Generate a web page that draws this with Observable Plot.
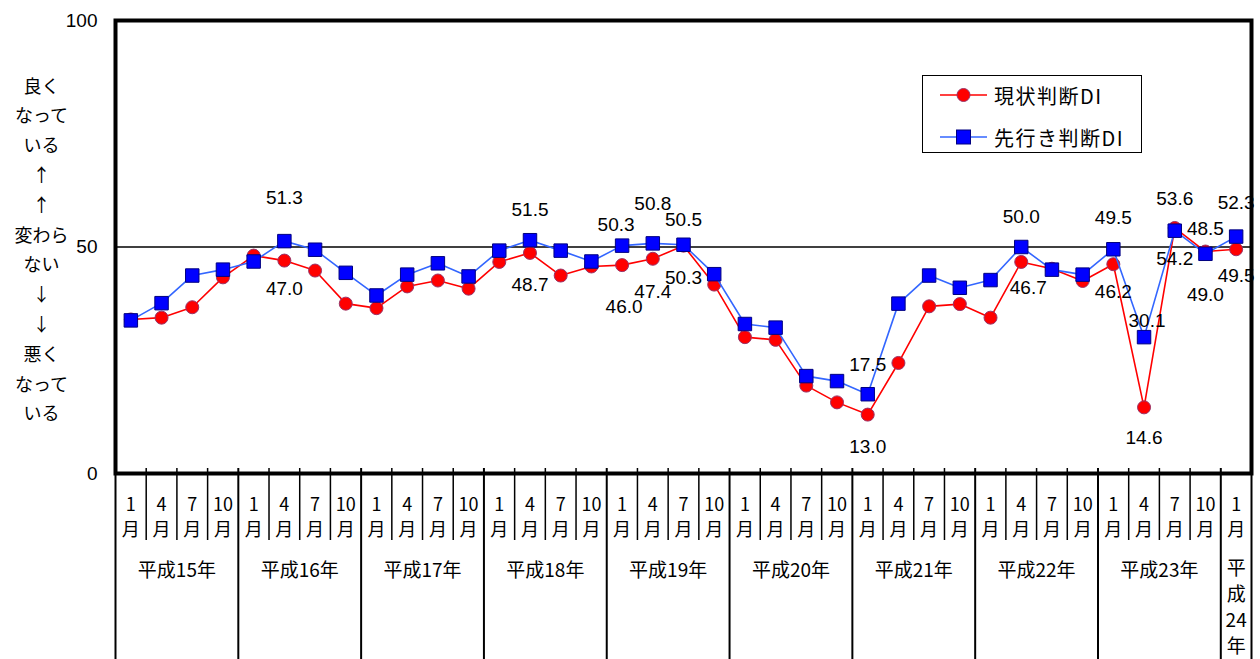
<!DOCTYPE html>
<html>
<head>
<meta charset="utf-8">
<script src="https://cdn.jsdelivr.net/npm/d3@7"></script>
<script src="https://cdn.jsdelivr.net/npm/@observablehq/plot@0.6"></script>
<style>
  html, body { margin: 0; padding: 0; background: #fff; }
  #chart { position: relative; width: 1260px; height: 659px; overflow: hidden; }
  .legend {
    position: absolute; left: 922px; top: 75px; width: 218px; height: 76px;
    border: 1.5px solid #000; background: #fff;
    font-family: 'Noto Sans CJK JP', 'Liberation Sans', sans-serif; font-size: 20px; letter-spacing: 1.5px;
  }
  .legend .row { position: absolute; left: 17px; display: flex; align-items: center; height: 24px; }
  .legend .row svg { display: block; margin-right: 6px; }
</style>
</head>
<body>
<div id="chart"></div>
<script>
// 景気ウォッチャー調査：現状判断DI・先行き判断DI（四半期）
const yearLabels = ["平成15年", "平成16年", "平成17年", "平成18年", "平成19年",
                    "平成20年", "平成21年", "平成22年", "平成23年", "平成24年"];
const quartersPerYear = [4, 4, 4, 4, 4, 4, 4, 4, 4, 1];
const monthLabels = ["1", "4", "7", "10"];

// 現状判断DI
const genjoDI = [34.0, 34.4, 36.7, 43.3,  48.1, 47.0, 44.8, 37.5,  36.5, 41.3, 42.6, 40.8,
                 46.7, 48.7, 43.7, 45.7,  46.0, 47.4, 50.3, 41.7,  30.1, 29.5, 19.4, 15.7,
                 13.0, 24.4, 36.9, 37.4,  34.4, 46.7, 45.2, 42.5,  46.2, 14.6, 54.2, 49.0,
                 49.5];
// 先行き判断DI
const sakiyukiDI = [33.8, 37.6, 43.7, 45.0,  46.8, 51.3, 49.4, 44.3,  39.3, 43.9, 46.4, 43.5,
                    49.2, 51.5, 49.2, 46.8,  50.3, 50.8, 50.5, 44.0,  33.0, 32.2, 21.5, 20.4,
                    17.5, 37.5, 43.7, 41.0,  42.7, 50.0, 45.0, 43.9,  49.5, 30.1, 53.6, 48.5,
                    52.3];
// 数値を表示する時点
const labeledPoints = [5, 13, 16, 17, 18, 24, 29, 32, 33, 34, 35, 36];

const yTicks = [0, 50, 100];
const sideLabel = ["良く", "なって", "いる", "↑", "↑", "変わら", "ない", "↓", "↓", "悪く", "なって", "いる"];
const seriesNames = ["現状判断DI", "先行き判断DI"];

// ---- layout ----
const W = 1260, H = 659;
const M = {top: 20, right: 9, bottom: 186, left: 115};
const plotH = H - M.top - M.bottom;
const NUM_FONT = "'Liberation Sans', 'Noto Sans CJK JP', sans-serif";
const JP_FONT = "'Noto Sans CJK JP', 'Liberation Sans', sans-serif";
const RED = "#FF0000", RED_EDGE = "#993366";
const BLUE_LINE = "#3366FF", BLUE = "#0000FF", BLUE_EDGE = "#000080";

// periods along the x axis
const periods = [];
const yearSpans = [];
yearLabels.forEach((y, yi) => {
  const start = periods.length;
  for (let q = 0; q < quartersPerYear[yi]; ++q) periods.push({year: y, month: monthLabels[q]});
  yearSpans.push({label: y, start, end: periods.length});
});
const n = periods.length;
const xc = (d, i) => i + 0.5;

const yearEdges = [0, ...yearSpans.map(s => s.end)];
const monthEdges = d3.range(1, n).filter(k => !yearEdges.includes(k));

// per-label offsets (px) to keep the value labels clear of the lines
const blueDy = {5: -43, 13: -30, 16: -21, 17: -39, 18: -25, 24: -29, 29: -30, 32: -31, 33: -16, 34: -32, 35: -25, 36: -34};
const blueDx = {16: -6, 33: 3};
const redDy = {5: 28, 13: 32, 16: 42, 17: 33, 18: 32, 24: 32, 29: 26, 32: 28, 33: 31, 34: 31, 35: 43, 36: 27};
const redDx = {29: 7, 16: 2};

const fmt = d3.format(".1f");
function valueLabels(values, dyMap, dxMap) {
  return labeledPoints.map(i => Plot.text([values[i]], {
    x: () => i + 0.5, y: d => d, text: d => fmt(d),
    dy: dyMap[i] ?? 0, dx: dxMap[i] ?? 0,
    fontSize: 19, fontFamily: NUM_FONT, fill: "#000"
  }));
}

// stack a label vertically ("平\n成\n24\n年") for single-quarter years
const stacked = s => s.match(/\d+|./g).join("\n");

const below = {frameAnchor: "bottom", textAnchor: "middle", lineAnchor: "middle", fill: "#000", fontFamily: JP_FONT};

const chart = Plot.plot({
  width: W, height: H,
  marginTop: M.top, marginRight: M.right, marginBottom: M.bottom, marginLeft: M.left,
  x: {domain: [0, n], axis: null},
  y: {domain: [0, 100], axis: null},
  style: {background: "#fff", overflow: "visible"},
  marks: [
    Plot.ruleY([50], {stroke: "#000", strokeWidth: 1.5}),
    // month separators below the axis
    Plot.ruleX(monthEdges, {stroke: "#000", strokeWidth: 1.5, insetTop: plotH - 5, insetBottom: -67}),
    // year separators down to the bottom
    Plot.ruleX(yearEdges, {stroke: "#000", strokeWidth: 2, insetTop: plotH - 5, insetBottom: -M.bottom}),
    Plot.frame({stroke: "#000", strokeWidth: 4}),
    // y tick labels
    Plot.text(yTicks, {y: d => d, frameAnchor: "left", dx: -18, textAnchor: "end", lineAnchor: "middle",
                       fontSize: 19, fontFamily: NUM_FONT, fill: "#000"}),
    // y axis description
    Plot.text([sideLabel.join("\n")], {frameAnchor: "left", dx: -74, textAnchor: "middle", lineAnchor: "middle",
                                       lineHeight: 1.655, fontSize: 18, fontFamily: JP_FONT, fill: "#000"}),
    // month labels
    Plot.text(periods, {...below, x: xc, text: d => d.month + "\n月", dy: 42,
                        lineHeight: 1.42, fontSize: 18}),
    // year labels
    Plot.text(yearSpans.filter(s => s.end - s.start > 1), {...below,
      x: s => (s.start + s.end) / 2, text: s => s.label, dy: 97, fontSize: 19}),
    Plot.text(yearSpans.filter(s => s.end - s.start === 1), {...below,
      x: s => (s.start + s.end) / 2, text: s => stacked(s.label), dy: 132,
      lineHeight: 1.37, fontSize: 19}),
    // 現状判断DI
    Plot.line(genjoDI, {x: xc, y: d => d, stroke: RED, strokeWidth: 1.6}),
    Plot.dot(genjoDI, {x: xc, y: d => d, r: 6.5, fill: RED, stroke: RED_EDGE, strokeWidth: 1}),
    // 先行き判断DI
    Plot.line(sakiyukiDI, {x: xc, y: d => d, stroke: BLUE_LINE, strokeWidth: 1.6}),
    Plot.dot(sakiyukiDI, {x: xc, y: d => d, symbol: "square", r: 7.6, fill: BLUE, stroke: BLUE_EDGE, strokeWidth: 1}),
    ...valueLabels(sakiyukiDI, blueDy, blueDx),
    ...valueLabels(genjoDI, redDy, redDx)
  ]
});

const root = document.getElementById("chart");
root.appendChild(chart);

// legend box inside the plot area
const legend = document.createElement("div");
legend.className = "legend";
legend.innerHTML = `
  <div class="row" style="top:7px">
    <svg width="48" height="20"><line x1="0" x2="47" y1="10" y2="10" stroke="${RED}" stroke-width="1.6"/>
      <circle cx="23.5" cy="10" r="6.5" fill="${RED}" stroke="${RED_EDGE}" stroke-width="1"/></svg>
    <span>${seriesNames[0]}</span></div>
  <div class="row" style="top:49px">
    <svg width="48" height="20"><line x1="0" x2="47" y1="10" y2="10" stroke="${BLUE_LINE}" stroke-width="1.6"/>
      <rect x="16.5" y="3" width="14" height="14" fill="${BLUE}" stroke="${BLUE_EDGE}" stroke-width="1"/></svg>
    <span>${seriesNames[1]}</span></div>`;
root.appendChild(legend);
</script>
</body>
</html>
